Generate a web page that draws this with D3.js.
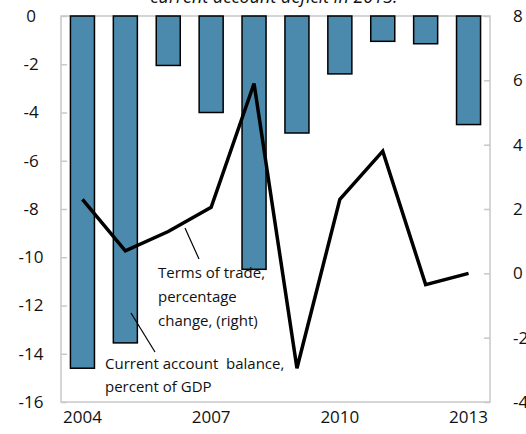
<!DOCTYPE html>
<html>
<head>
<meta charset="utf-8">
<script src="https://cdn.jsdelivr.net/npm/d3@7"></script>
<style>
    body { margin: 0; background: #fff; }
    svg { display: block; font-family: "Open Sans", sans-serif; }
</style>
</head>
<body>
<svg id="chart" width="526" height="434"></svg>
<script>
// values
const years = [2004, 2005, 2006, 2007, 2008, 2009, 2010, 2011, 2012, 2013];
const currentAccount = [-14.6, -13.55, -2.05, -4.0, -10.5, -4.85, -2.4, -1.05, -1.15, -4.5];
const termsOfTrade = [2.3, 0.7, 1.3, 2.05, 5.9, -2.95, 2.3, 3.8, -0.35, 0.0];
const leftTicks = [0, -2, -4, -6, -8, -10, -12, -14, -16];
const rightTicks = [8, 6, 4, 2, 0, -2, -4];
const xTickYears = [2004, 2007, 2010, 2013];
const title = "current account deficit in 2013.";

const svg = d3.select("#chart");
const plotLeft = 61, plotRight = 490, plotTop = 16, plotBottom = 402;

let x = d3.scaleBand()
    .domain(years)
    .range([plotLeft, plotRight])
    .paddingInner(0.44)
    .paddingOuter(0.22);

let yL = d3.scaleLinear().domain([-16, 0]).range([plotBottom, plotTop]);
let yR = d3.scaleLinear().domain([-4, 8]).range([plotBottom, plotTop]);

// title (clipped at the top of the picture)
svg.append("text")
    .attr("x", 274)
    .attr("y", 3)
    .attr("text-anchor", "middle")
    .attr("font-style", "italic")
    .attr("font-size", 18)
    .attr("fill", "#111")
    .text(title);

// frame
svg.append("rect")
    .attr("x", plotLeft)
    .attr("y", plotTop)
    .attr("width", plotRight - plotLeft)
    .attr("height", plotBottom - plotTop)
    .attr("fill", "none")
    .attr("stroke", "#c8c8c8")
    .attr("stroke-width", 1.5);

// left axis
let axL = d3.axisLeft(yL).tickValues(leftTicks).tickFormat(d => String(d)).tickSize(-6).tickPadding(0);
let gL = svg.append("g").attr("transform", `translate(${plotLeft},0)`).call(axL);
gL.select(".domain").remove();
gL.selectAll("line").attr("stroke", "#c8c8c8").attr("stroke-width", 1.5);
gL.selectAll("text")
    .attr("x", -30)
    .attr("text-anchor", "middle")
    .attr("font-size", 17)
    .attr("font-family", "Open Sans")
    .attr("fill", "#111");

// right axis
let axR = d3.axisRight(yR).tickValues(rightTicks).tickFormat(d => String(d)).tickSize(-6).tickPadding(0);
let gR = svg.append("g").attr("transform", `translate(${plotRight},0)`).call(axR);
gR.select(".domain").remove();
gR.selectAll("line").attr("stroke", "#c8c8c8").attr("stroke-width", 1.5);
gR.selectAll("text")
    .attr("x", 23)
    .attr("text-anchor", "start")
    .attr("font-size", 17)
    .attr("font-family", "Open Sans")
    .attr("fill", "#111");

// x labels
svg.selectAll(".xlab")
    .data(xTickYears)
    .join("text")
    .attr("class", "xlab")
    .attr("x", d => x(d) + x.bandwidth() / 2)
    .attr("y", 423)
    .attr("text-anchor", "middle")
    .attr("font-size", 17)
    .attr("fill", "#111")
    .text(d => d);

// bars
svg.selectAll(".bar")
    .data(years.map((d, i) => ({year: d, value: currentAccount[i]})))
    .join("rect")
    .attr("class", "bar")
    .attr("x", d => x(d.year))
    .attr("y", d => yL(0))
    .attr("width", x.bandwidth())
    .attr("height", d => yL(d.value) - yL(0))
    .attr("fill", "#4b8aac")
    .attr("stroke", "#000")
    .attr("stroke-width", 1.5);

// terms of trade line
let line = d3.line()
    .x((d, i) => x(years[i]) + x.bandwidth() / 2)
    .y(d => yR(d));

svg.append("path")
    .datum(termsOfTrade)
    .attr("d", line)
    .attr("fill", "none")
    .attr("stroke", "#000")
    .attr("stroke-width", 3.5)
    .attr("stroke-linejoin", "miter");

// annotations
let ann = svg.append("g").attr("font-size", 15).attr("fill", "#111");
[["Terms of trade,", 158, 278], ["percentage", 158, 302], ["change, (right)", 158, 326]]
    .forEach(t => ann.append("text").attr("x", t[1]).attr("y", t[2]).text(t[0]));
[["Current account\u00a0 balance,", 105, 369], ["percent of GDP", 105, 392]]
    .forEach(t => ann.append("text").attr("x", t[1]).attr("y", t[2]).text(t[0]));

svg.append("line")
    .attr("x1", 185).attr("y1", 228).attr("x2", 199).attr("y2", 259)
    .attr("stroke", "#000").attr("stroke-width", 1.2);
svg.append("line")
    .attr("x1", 131).attr("y1", 313).attr("x2", 155).attr("y2", 352)
    .attr("stroke", "#000").attr("stroke-width", 1.2);
</script>
</body>
</html>
